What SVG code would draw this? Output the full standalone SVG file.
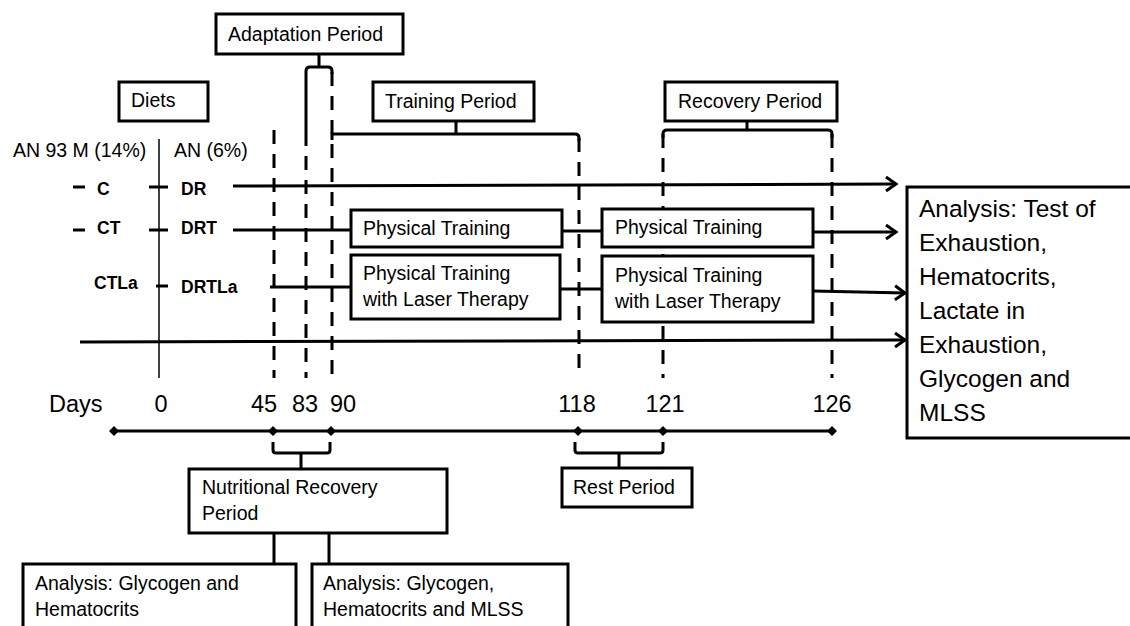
<svg xmlns="http://www.w3.org/2000/svg" width="1130" height="626" viewBox="0 0 1130 626">
<style>
text{font-family:"Liberation Sans",Arial,sans-serif;fill:#000}
.t{font-size:19.5px}
.b{font-size:17.5px;font-weight:bold}
.d{font-size:23.5px}
.big{font-size:24.5px}
.box{fill:#fff;stroke:#000;stroke-width:3}
.ln{fill:none;stroke:#000;stroke-width:3}
.thin{fill:none;stroke:#000;stroke-width:1.5}
.dash{fill:none;stroke:#000;stroke-width:3;stroke-dasharray:14 10}
.dm{fill:#000}
</style>
<defs>
<marker id="arr" markerUnits="userSpaceOnUse" markerWidth="16" markerHeight="18" refX="12" refY="9" orient="auto">
<path d="M2,2 L12,9 L2,16" fill="none" stroke="#000" stroke-width="3"/>
</marker>
</defs>

<g id="connectors">
<!-- vertical diet line -->
<line class="thin" x1="159" y1="139" x2="159" y2="378"/>
<!-- dashed day lines -->
<line class="dash" x1="274" y1="130" x2="274" y2="378"/>
<line class="dash" x1="306" y1="132" x2="306" y2="378"/>
<line class="dash" x1="332" y1="72" x2="332" y2="378"/>
<line class="dash" x1="579" y1="138" x2="579" y2="378"/>
<line class="dash" x1="663" y1="134" x2="663" y2="378"/>
<line class="dash" x1="832" y1="134" x2="832" y2="378"/>
<!-- adaptation bracket -->
<path class="ln" d="M319,54 V67 M306,132 V71 Q306,67 310,67 H328 Q332,67 332,71 V74"/>
<!-- training bracket -->
<path class="ln" d="M456,121 V134 M332,140 V134 H575 Q579,134 579,138 V141"/>
<!-- recovery bracket -->
<path class="ln" d="M747,121 V130 M663,138 V134 Q663,130 667,130 H828 Q832,130 832,134 V138"/>
<!-- row marks -->
<line class="ln" x1="73" y1="187" x2="85" y2="187"/>
<line class="ln" x1="149" y1="187" x2="168" y2="187"/>
<line class="ln" x1="73" y1="230" x2="85" y2="230"/>
<line class="ln" x1="149" y1="230" x2="168" y2="230"/>
<line class="ln" x1="156" y1="286" x2="168" y2="286"/>
<!-- DR -->
<line class="ln" x1="233" y1="186" x2="896" y2="184" marker-end="url(#arr)"/>
<!-- DRT -->
<line class="ln" x1="233" y1="230" x2="351" y2="230"/>
<line class="ln" x1="562" y1="231" x2="602" y2="231"/>
<line class="ln" x1="813" y1="232" x2="896" y2="232" marker-end="url(#arr)"/>
<!-- DRTLa -->
<line class="ln" x1="270" y1="287" x2="351" y2="287"/>
<line class="ln" x1="560" y1="289" x2="602" y2="289"/>
<line class="ln" x1="813" y1="291" x2="905" y2="293" marker-end="url(#arr)"/>
<!-- bottom arrow -->
<line class="ln" x1="80" y1="342" x2="905" y2="340" marker-end="url(#arr)"/>
<!-- timeline -->
<line class="ln" x1="114" y1="431" x2="832" y2="431"/>
<path class="dm" d="M114,426 l5,5 l-5,5 l-5,-5z M273,426 l5,5 l-5,5 l-5,-5z M331,426 l5,5 l-5,5 l-5,-5z M578,426 l5,5 l-5,5 l-5,-5z M663,426 l5,5 l-5,5 l-5,-5z M832,426 l5,5 l-5,5 l-5,-5z"/>
<!-- nutritional bracket -->
<path class="ln" d="M273,442 V450 Q273,453 276,453 H327 Q330,453 330,450 V442 M301,453 V469"/>
<!-- rest bracket -->
<path class="ln" d="M575,442 V450 Q575,453 578,453 H660 Q663,453 663,450 V442 M619,453 V468"/>
<!-- stems to analysis boxes -->
<line class="ln" x1="274" y1="533" x2="274" y2="564"/>
<line class="ln" x1="329" y1="533" x2="329" y2="564"/>
</g>

<g id="adaptation"><rect class="box" x="216" y="14" width="187" height="40"/><text class="t" x="228" y="41">Adaptation Period</text></g>
<g id="diets"><rect class="box" x="119" y="82" width="89" height="39"/><text class="t" x="131" y="107">Diets</text></g>
<g id="training"><rect class="box" x="373" y="82" width="161" height="39"/><text class="t" x="385" y="108">Training Period</text></g>
<g id="recovery"><rect class="box" x="665" y="82" width="172" height="39"/><text class="t" x="678" y="108">Recovery Period</text></g>

<g id="labels">
<text class="t" x="13" y="157">AN 93 M (14%)</text>
<text class="t" x="174" y="157">AN (6%)</text>
<text class="b" x="97" y="195">C</text>
<text class="b" x="181" y="195">DR</text>
<text class="b" x="97" y="234">CT</text>
<text class="b" x="181" y="234">DRT</text>
<text class="b" x="94" y="289">CTLa</text>
<text class="b" x="181" y="293">DRTLa</text>
</g>

<g id="pt1"><rect class="box" x="351" y="210" width="211" height="37"/><text class="t" x="363" y="235">Physical Training</text></g>
<g id="ptl1"><rect class="box" x="351" y="255" width="209" height="64"/><text class="t" x="363" y="280">Physical Training</text><text class="t" x="363" y="306">with Laser Therapy</text></g>
<g id="pt2"><rect class="box" x="602" y="209" width="211" height="38"/><text class="t" x="615" y="234">Physical Training</text></g>
<g id="ptl2"><rect class="box" x="602" y="256" width="211" height="66"/><text class="t" x="615" y="282">Physical Training</text><text class="t" x="615" y="308">with Laser Therapy</text></g>

<g id="final-analysis">
<rect class="box" x="907" y="187" width="226" height="251"/>
<text class="big" x="919" y="217">Analysis: Test of</text>
<text class="big" x="919" y="251">Exhaustion,</text>
<text class="big" x="919" y="285">Hematocrits,</text>
<text class="big" x="919" y="319">Lactate in</text>
<text class="big" x="919" y="353">Exhaustion,</text>
<text class="big" x="919" y="387">Glycogen and</text>
<text class="big" x="919" y="421">MLSS</text>
</g>

<g id="days">
<text class="d" x="49" y="412">Days</text>
<text class="d" x="161" y="412" text-anchor="middle">0</text>
<text class="d" x="264" y="412" text-anchor="middle">45</text>
<text class="d" x="305" y="412" text-anchor="middle">83</text>
<text class="d" x="343" y="412" text-anchor="middle">90</text>
<text class="d" x="577" y="412" text-anchor="middle">118</text>
<text class="d" x="665" y="412" text-anchor="middle">121</text>
<text class="d" x="832" y="412" text-anchor="middle">126</text>
</g>

<g id="nutritional"><rect class="box" x="189" y="469" width="258" height="64"/><text class="t" x="202" y="494">Nutritional Recovery</text><text class="t" x="202" y="520">Period</text></g>
<g id="rest"><rect class="box" x="562" y="468" width="130" height="39"/><text class="t" x="573" y="494">Rest Period</text></g>
<g id="analysis1"><rect class="box" x="23" y="564" width="273" height="70"/><text class="t" x="35" y="590">Analysis: Glycogen and</text><text class="t" x="35" y="616">Hematocrits</text></g>
<g id="analysis2"><rect class="box" x="312" y="564" width="256" height="70"/><text class="t" x="323" y="590">Analysis: Glycogen,</text><text class="t" x="323" y="616">Hematocrits and MLSS</text></g>
</svg>
